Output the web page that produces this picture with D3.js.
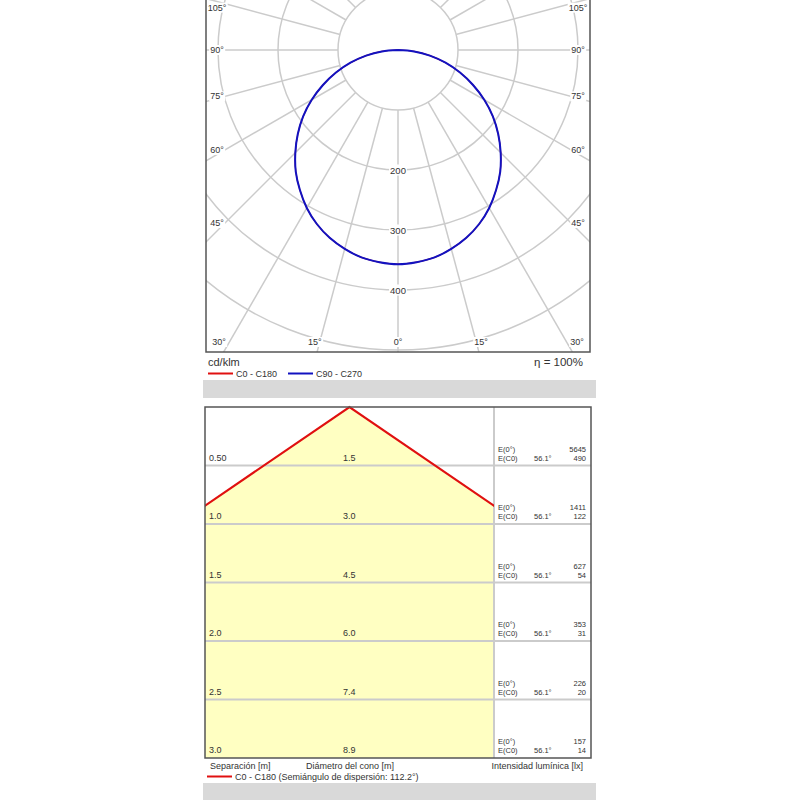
<!DOCTYPE html>
<html><head><meta charset="utf-8">
<script src="https://cdn.jsdelivr.net/npm/d3@7"></script>
<style>
body{margin:0;background:#fff}
svg{display:block}
text{font-family:"Liberation Sans",Arial,sans-serif;fill:#333}
</style>
</head><body><svg width="800" height="800"></svg>
<script>
// ---------- data ----------
const gammaAngles = [0,5,10,15,20,25,30,35,40,45,50,55,60,65,70,75,80,85,90];
const c0c180Values = [357,355,351,343,333,320,304,285,265,242,218,193,166,138,110,82,54,27,0];
const c90c270Values = [357,355,351,343,333,320,304,285,265,242,218,193,166,138,110,82,54,27,0];
const ringValues = [100,200,300,400,500,600,700];
const ringLabelValues = [200,300,400];
const sideAngleLabels = [45,60,75,90,105];
const bottomAngleLabels = [0,15,30];
const unitLabel = "cd/klm";
const etaLabel = "\u03B7 = 100%";
const polarSeries = ["C0 - C180","C90 - C270"];

const separations = [0.5,1.0,1.5,2.0,2.5,3.0];
const separationLabels = ["0.50","1.0","1.5","2.0","2.5","3.0"];
const coneDiameters = ["1.5","3.0","4.5","6.0","7.4","8.9"];
const eCenter = [5645,1411,627,353,226,157];
const eEdge = [490,122,54,31,20,14];
const halfAngle = 56.1;
const coneLegend = "C0 - C180 (Semiángulo de dispersión: 112.2°)";
const axisNames = ["Separación [m]","Diámetro del cono [m]","Intensidad lumínica [lx]"];

// ---------- setup ----------
const svg = d3.select("svg");
const defs = svg.append("defs");
const RED = "#e01010", BLUE = "#1212c0", GRID = "#cbcbcb", FRAME = "#555";

function labelWithBg(parent, x, y, txt, size) {
  const g = parent.append("g");
  const t = g.append("text").attr("x", x).attr("y", y)
    .attr("text-anchor","middle").attr("dominant-baseline","central")
    .attr("font-size", size).text(txt);
  const b = t.node().getBBox();
  g.insert("rect","text").attr("x", b.x-1).attr("y", b.y).attr("width", b.width+2)
    .attr("height", b.height).attr("fill","#fff");
}

// ---------- polar diagram ----------
const P = {left:206, right:590, top:-5, bottom:352};
const cx = 398, cy = 50;
const rS = d3.scaleLinear().domain([0,100]).range([0,60]);

defs.append("clipPath").attr("id","pclip").append("rect")
  .attr("x",P.left).attr("y",P.top).attr("width",P.right-P.left).attr("height",P.bottom-P.top);
const pg = svg.append("g").attr("clip-path","url(#pclip)");

pg.selectAll("circle.ring").data(ringValues).join("circle")
  .attr("cx",cx).attr("cy",cy).attr("r",d=>rS(d))
  .attr("fill","none").attr("stroke",GRID).attr("stroke-width",1.5);

const spokeAngles = d3.range(0,360,15);
const rad = a => a*Math.PI/180;
pg.selectAll("line.spoke").data(spokeAngles).join("line")
  .attr("x1",a=>cx+rS(100)*Math.sin(rad(a))).attr("y1",a=>cy+rS(100)*Math.cos(rad(a)))
  .attr("x2",a=>cx+rS(1200)*Math.sin(rad(a))).attr("y2",a=>cy+rS(1200)*Math.cos(rad(a)))
  .attr("stroke",GRID).attr("stroke-width",1.5);

function fullCurve(vals){
  const pts = [];
  for (let i=gammaAngles.length-1;i>=0;i--) pts.push({a:-gammaAngles[i], v:vals[i]});
  for (let i=1;i<gammaAngles.length;i++) pts.push({a:gammaAngles[i], v:vals[i]});
  return pts;
}
const radial = d3.lineRadial()
  .angle(d=>Math.PI - rad(d.a)).radius(d=>rS(d.v)).curve(d3.curveCatmullRom.alpha(0.5));

// labels
ringLabelValues.forEach(v=>labelWithBg(pg, cx, cy+rS(v), String(v), 9.5));
sideAngleLabels.forEach(a=>{
  const y = cy + 173/Math.tan(rad(a)) + (a>90 ? 4 : 0);
  labelWithBg(pg, 217, y, a+"°", 9);
  labelWithBg(pg, 578, y, a+"°", 9);
});
bottomAngleLabels.forEach(a=>{
  const dx = 310*Math.tan(rad(a));
  labelWithBg(pg, cx-dx, 342, a+"°", 9);
  if (a>0) labelWithBg(pg, cx+dx, 342, a+"°", 9);
});

pg.append("path").datum(fullCurve(c0c180Values))
  .attr("transform",`translate(${cx},${cy})`).attr("d",radial)
  .attr("fill","none").attr("stroke",RED).attr("stroke-width",1.2);
pg.append("path").datum(fullCurve(c90c270Values))
  .attr("transform",`translate(${cx},${cy})`).attr("d",radial)
  .attr("fill","none").attr("stroke",BLUE).attr("stroke-width",2);

svg.append("rect").attr("x",P.left).attr("y",P.top).attr("width",P.right-P.left)
  .attr("height",P.bottom-P.top).attr("fill","none").attr("stroke",FRAME).attr("stroke-width",1.5);

svg.append("text").attr("x",208).attr("y",366).attr("font-size",11).text(unitLabel);
svg.append("text").attr("x",583).attr("y",366).attr("font-size",11.5).attr("text-anchor","end").text(etaLabel);
[[208,RED],[288,BLUE]].forEach(([x,c],i)=>{
  svg.append("line").attr("x1",x).attr("x2",x+25).attr("y1",373.5).attr("y2",373.5)
    .attr("stroke",c).attr("stroke-width",2);
  svg.append("text").attr("x",x+28).attr("y",377).attr("font-size",9).text(polarSeries[i]);
});
svg.append("rect").attr("x",203).attr("y",380).attr("width",393).attr("height",18).attr("fill","#d9d9d9");

// ---------- cone diagram ----------
const B = {left:205, right:591, top:407, bottom:758, split:494};
const yS = d3.scaleLinear().domain([0,3]).range([B.top,B.bottom]);
const coneCx = (B.left+B.split)/2;
const xS = d3.scaleLinear().domain([-1,1]).range([coneCx-115, coneCx+115]);
const tH = Math.tan(rad(halfAngle));
const dMax = separations[separations.length-1];
const conePts = [[xS(-tH*dMax),yS(dMax)],[xS(0),yS(0)],[xS(tH*dMax),yS(dMax)]];

defs.append("clipPath").attr("id","cclip").append("rect")
  .attr("x",B.left).attr("y",B.top).attr("width",B.split-B.left).attr("height",B.bottom-B.top);
defs.append("clipPath").attr("id","cclip2").append("rect")
  .attr("x",B.left).attr("y",B.top-2).attr("width",B.split-B.left).attr("height",B.bottom-B.top+2);

svg.append("g").attr("clip-path","url(#cclip)").append("path")
  .attr("d", d3.line()(conePts)+"Z").attr("fill","#ffffc2");

svg.selectAll("line.row").data(separations.slice(0,-1)).join("line")
  .attr("x1",B.left).attr("x2",B.right).attr("y1",d=>yS(d)).attr("y2",d=>yS(d))
  .attr("stroke",GRID).attr("stroke-width",2);
svg.append("line").attr("x1",B.split).attr("x2",B.split).attr("y1",B.top).attr("y2",B.bottom)
  .attr("stroke",GRID).attr("stroke-width",2);

svg.append("g").attr("clip-path","url(#cclip2)").append("path")
  .attr("d", d3.line()(conePts)).attr("fill","none").attr("stroke",RED).attr("stroke-width",2.2);

svg.append("rect").attr("x",B.left).attr("y",B.top).attr("width",B.right-B.left)
  .attr("height",B.bottom-B.top).attr("fill","none").attr("stroke",FRAME).attr("stroke-width",1.5);

separations.forEach((s,i)=>{
  const yb = yS(s);
  svg.append("text").attr("x",209).attr("y",yb-5).attr("font-size",9).text(separationLabels[i]);
  svg.append("text").attr("x",343).attr("y",yb-5).attr("font-size",9).text(coneDiameters[i]);
  svg.append("text").attr("x",498).attr("y",yb-14).attr("font-size",7.5).text("E(0°)");
  svg.append("text").attr("x",498).attr("y",yb-5).attr("font-size",7.5).text("E(C0)");
  svg.append("text").attr("x",534).attr("y",yb-5).attr("font-size",7.5).text(halfAngle.toFixed(1)+"°");
  svg.append("text").attr("x",586).attr("y",yb-14).attr("font-size",7.5).attr("text-anchor","end").text(eCenter[i]);
  svg.append("text").attr("x",586).attr("y",yb-5).attr("font-size",7.5).attr("text-anchor","end").text(eEdge[i]);
});

svg.append("text").attr("x",210).attr("y",769).attr("font-size",9).text(axisNames[0]);
svg.append("text").attr("x",306).attr("y",769).attr("font-size",9).text(axisNames[1]);
svg.append("text").attr("x",583).attr("y",769).attr("font-size",9).attr("text-anchor","end").text(axisNames[2]);
svg.append("line").attr("x1",207).attr("x2",232).attr("y1",776.5).attr("y2",776.5).attr("stroke",RED).attr("stroke-width",2);
svg.append("text").attr("x",235).attr("y",780).attr("font-size",9).text(coneLegend);
svg.append("rect").attr("x",203).attr("y",783).attr("width",393).attr("height",17).attr("fill","#d9d9d9");
</script>
</body></html>
